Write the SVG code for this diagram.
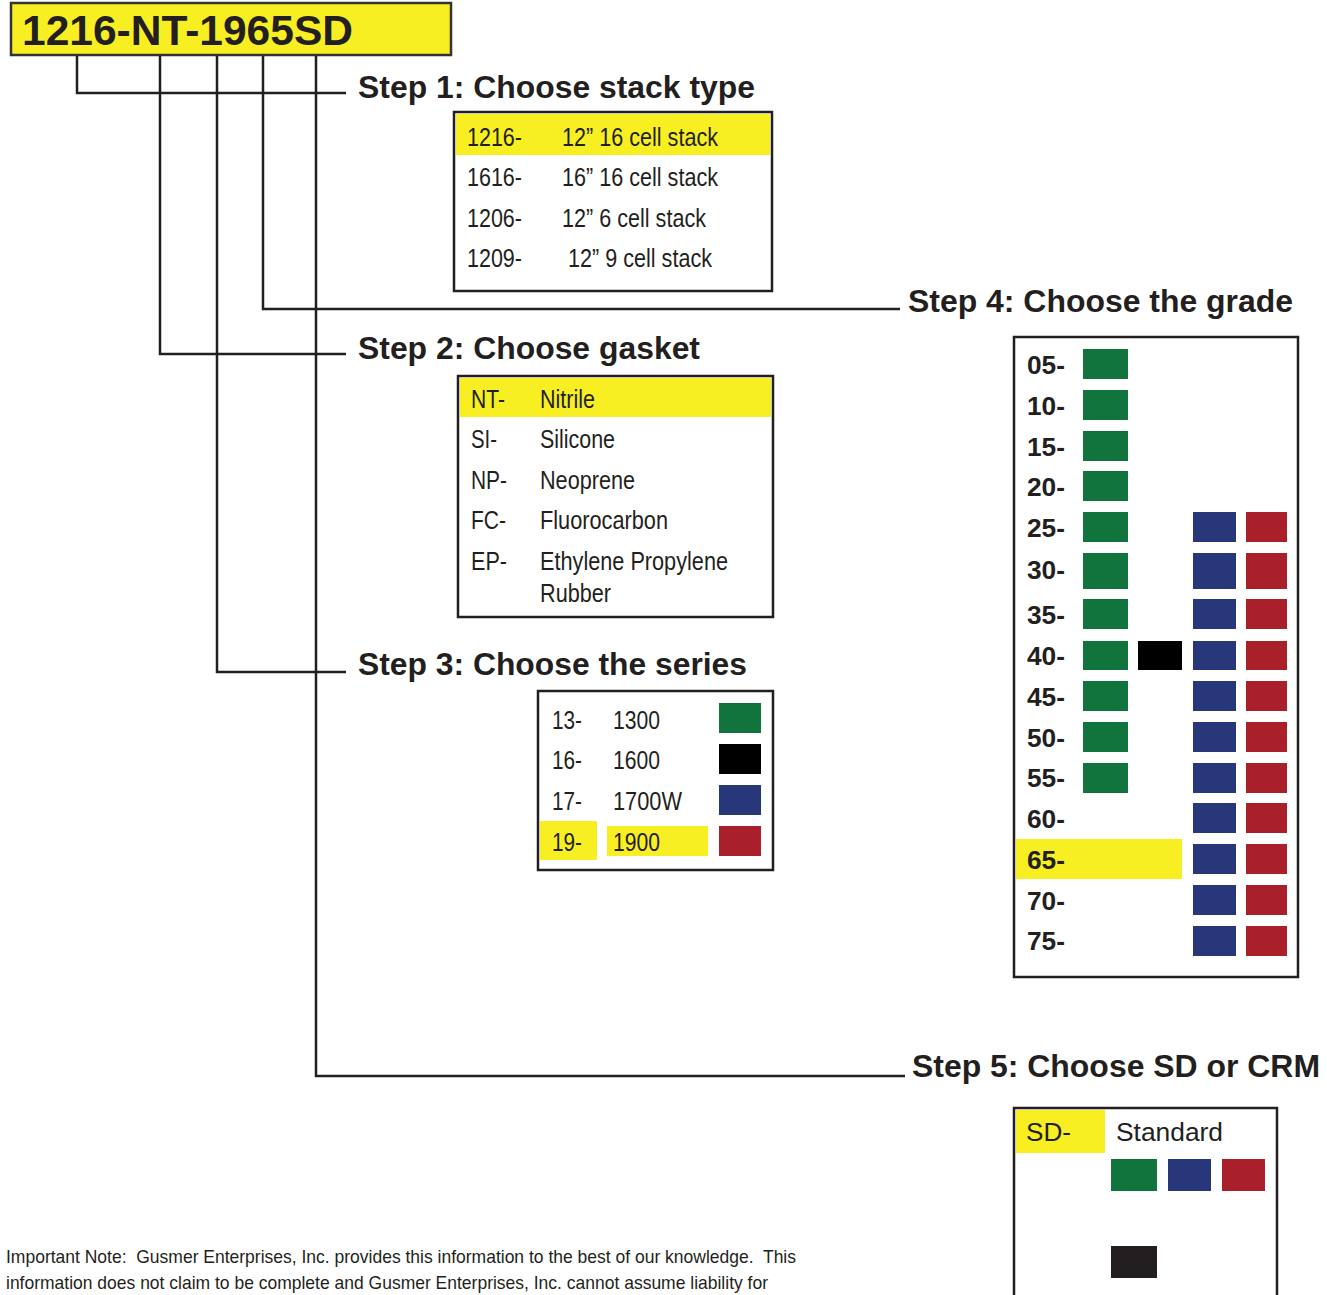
<svg xmlns="http://www.w3.org/2000/svg" width="1327" height="1295" viewBox="0 0 1327 1295">
<style>
.bg{fill:#fff}
.box{fill:#fff;stroke:#231f20;stroke-width:2.5}
.yl{fill:#f8ef22}
.ttl{font-family:"Liberation Sans",Arial,sans-serif;font-weight:bold;font-size:42px;fill:#231f20}
.step{font-family:"Liberation Sans",Arial,sans-serif;font-weight:bold;font-size:31px;fill:#231f20}
.t{font-family:"Liberation Sans",Arial,sans-serif;font-size:25px;fill:#231f20}
.g{font-family:"Liberation Sans",Arial,sans-serif;font-weight:bold;font-size:26px;fill:#231f20}
.note{font-family:"Liberation Sans",Arial,sans-serif;font-size:19px;fill:#231f20;white-space:pre}
.gr{fill:#10743c}.bl{fill:#27377a}.rd{fill:#a91f2a}.bk{fill:#000}
.conn{fill:none;stroke:#231f20;stroke-width:2.5}
</style>
<rect class="bg" x="0" y="0" width="1327" height="1295"/>

<g id="connectors">
<path class="conn" d="M77 55 V93 H346"/>
<path class="conn" d="M160 55 V354 H346"/>
<path class="conn" d="M217 55 V672 H346"/>
<path class="conn" d="M263 55 V309 H900"/>
<path class="conn" d="M316 55 V1076 H905"/>
</g>

<g id="title">
<rect x="11" y="3" width="440" height="52" fill="#f8ef22" stroke="#333" stroke-width="2.5"/>
<text class="ttl" x="22" y="45" textLength="331" lengthAdjust="spacingAndGlyphs">1216-NT-1965SD</text>
</g>

<g id="step1">
<text class="step" x="358" y="98" textLength="397" lengthAdjust="spacingAndGlyphs">Step 1: Choose stack type</text>
<rect class="box" x="454" y="112" width="318" height="179"/>
<rect class="yl" x="456" y="114" width="314" height="41"/>
<text class="t" x="467" y="146" textLength="55" lengthAdjust="spacingAndGlyphs">1216-</text>
<text class="t" x="562" y="146" textLength="156" lengthAdjust="spacingAndGlyphs">12” 16 cell stack</text>
<text class="t" x="467" y="186" textLength="55" lengthAdjust="spacingAndGlyphs">1616-</text>
<text class="t" x="562" y="186" textLength="156" lengthAdjust="spacingAndGlyphs">16” 16 cell stack</text>
<text class="t" x="467" y="227" textLength="55" lengthAdjust="spacingAndGlyphs">1206-</text>
<text class="t" x="562" y="227" textLength="144" lengthAdjust="spacingAndGlyphs">12” 6 cell stack</text>
<text class="t" x="467" y="267" textLength="55" lengthAdjust="spacingAndGlyphs">1209-</text>
<text class="t" x="568" y="267" textLength="144" lengthAdjust="spacingAndGlyphs">12” 9 cell stack</text>
</g>

<g id="step2">
<text class="step" x="358" y="359" textLength="342" lengthAdjust="spacingAndGlyphs">Step 2: Choose gasket</text>
<rect class="box" x="458" y="376" width="315" height="241"/>
<rect class="yl" x="460" y="378" width="311" height="39"/>
<text class="t" x="471" y="408" textLength="34" lengthAdjust="spacingAndGlyphs">NT-</text>
<text class="t" x="540" y="408" textLength="55" lengthAdjust="spacingAndGlyphs">Nitrile</text>
<text class="t" x="471" y="448" textLength="26" lengthAdjust="spacingAndGlyphs">SI-</text>
<text class="t" x="540" y="448" textLength="75" lengthAdjust="spacingAndGlyphs">Silicone</text>
<text class="t" x="471" y="489" textLength="36" lengthAdjust="spacingAndGlyphs">NP-</text>
<text class="t" x="540" y="489" textLength="95" lengthAdjust="spacingAndGlyphs">Neoprene</text>
<text class="t" x="471" y="529" textLength="35" lengthAdjust="spacingAndGlyphs">FC-</text>
<text class="t" x="540" y="529" textLength="128" lengthAdjust="spacingAndGlyphs">Fluorocarbon</text>
<text class="t" x="471" y="570" textLength="36" lengthAdjust="spacingAndGlyphs">EP-</text>
<text class="t" x="540" y="570" textLength="188" lengthAdjust="spacingAndGlyphs">Ethylene Propylene</text>
<text class="t" x="540" y="602" textLength="71" lengthAdjust="spacingAndGlyphs">Rubber</text>
</g>

<g id="step3">
<text class="step" x="358" y="675" textLength="389" lengthAdjust="spacingAndGlyphs">Step 3: Choose the series</text>
<rect class="box" x="538" y="691" width="235" height="179"/>
<rect class="yl" x="540" y="821" width="57" height="39"/>
<rect class="yl" x="607" y="826" width="101" height="30"/>
<text class="t" x="552" y="729" textLength="30" lengthAdjust="spacingAndGlyphs">13-</text>
<text class="t" x="613" y="729" textLength="47" lengthAdjust="spacingAndGlyphs">1300</text>
<text class="t" x="552" y="769" textLength="30" lengthAdjust="spacingAndGlyphs">16-</text>
<text class="t" x="613" y="769" textLength="47" lengthAdjust="spacingAndGlyphs">1600</text>
<text class="t" x="552" y="810" textLength="30" lengthAdjust="spacingAndGlyphs">17-</text>
<text class="t" x="613" y="810" textLength="69" lengthAdjust="spacingAndGlyphs">1700W</text>
<text class="t" x="552" y="851" textLength="30" lengthAdjust="spacingAndGlyphs">19-</text>
<text class="t" x="613" y="851" textLength="47" lengthAdjust="spacingAndGlyphs">1900</text>
<rect class="gr" x="719" y="703" width="42" height="30"/>
<rect class="bk" x="719" y="744" width="42" height="30"/>
<rect class="bl" x="719" y="785" width="42" height="30"/>
<rect class="rd" x="719" y="826" width="42" height="30"/>
</g>

<g id="step4">
<text class="step" x="908" y="312" textLength="385" lengthAdjust="spacingAndGlyphs">Step 4: Choose the grade</text>
<rect class="box" x="1014" y="337" width="284" height="640"/>
<rect class="yl" x="1016" y="839" width="166" height="40"/>
<text class="g" x="1027" y="374" textLength="38" lengthAdjust="spacingAndGlyphs">05-</text>
<text class="g" x="1027" y="415" textLength="38" lengthAdjust="spacingAndGlyphs">10-</text>
<text class="g" x="1027" y="456" textLength="38" lengthAdjust="spacingAndGlyphs">15-</text>
<text class="g" x="1027" y="496" textLength="38" lengthAdjust="spacingAndGlyphs">20-</text>
<text class="g" x="1027" y="537" textLength="38" lengthAdjust="spacingAndGlyphs">25-</text>
<text class="g" x="1027" y="579" textLength="38" lengthAdjust="spacingAndGlyphs">30-</text>
<text class="g" x="1027" y="624" textLength="38" lengthAdjust="spacingAndGlyphs">35-</text>
<text class="g" x="1027" y="665" textLength="38" lengthAdjust="spacingAndGlyphs">40-</text>
<text class="g" x="1027" y="706" textLength="38" lengthAdjust="spacingAndGlyphs">45-</text>
<text class="g" x="1027" y="747" textLength="38" lengthAdjust="spacingAndGlyphs">50-</text>
<text class="g" x="1027" y="787" textLength="38" lengthAdjust="spacingAndGlyphs">55-</text>
<text class="g" x="1027" y="828" textLength="38" lengthAdjust="spacingAndGlyphs">60-</text>
<text class="g" x="1027" y="869" textLength="38" lengthAdjust="spacingAndGlyphs">65-</text>
<text class="g" x="1027" y="910" textLength="38" lengthAdjust="spacingAndGlyphs">70-</text>
<text class="g" x="1027" y="950" textLength="38" lengthAdjust="spacingAndGlyphs">75-</text>
<g class="gr">
<rect x="1083" y="349" width="45" height="30"/>
<rect x="1083" y="390" width="45" height="30"/>
<rect x="1083" y="431" width="45" height="30"/>
<rect x="1083" y="471" width="45" height="30"/>
<rect x="1083" y="512" width="45" height="30"/>
<rect x="1083" y="553" width="45" height="36"/>
<rect x="1083" y="599" width="45" height="30"/>
<rect x="1083" y="641" width="45" height="29"/>
<rect x="1083" y="681" width="45" height="30"/>
<rect x="1083" y="722" width="45" height="30"/>
<rect x="1083" y="763" width="45" height="30"/>
</g>
<rect class="bk" x="1138" y="641" width="44" height="29"/>
<g class="bl">
<rect x="1193" y="512" width="43" height="30"/>
<rect x="1193" y="553" width="43" height="36"/>
<rect x="1193" y="599" width="43" height="30"/>
<rect x="1193" y="641" width="43" height="29"/>
<rect x="1193" y="681" width="43" height="30"/>
<rect x="1193" y="722" width="43" height="30"/>
<rect x="1193" y="763" width="43" height="30"/>
<rect x="1193" y="803" width="43" height="30"/>
<rect x="1193" y="844" width="43" height="30"/>
<rect x="1193" y="885" width="43" height="30"/>
<rect x="1193" y="926" width="43" height="30"/>
</g>
<g class="rd">
<rect x="1246" y="512" width="41" height="30"/>
<rect x="1246" y="553" width="41" height="36"/>
<rect x="1246" y="599" width="41" height="30"/>
<rect x="1246" y="641" width="41" height="29"/>
<rect x="1246" y="681" width="41" height="30"/>
<rect x="1246" y="722" width="41" height="30"/>
<rect x="1246" y="763" width="41" height="30"/>
<rect x="1246" y="803" width="41" height="30"/>
<rect x="1246" y="844" width="41" height="30"/>
<rect x="1246" y="885" width="41" height="30"/>
<rect x="1246" y="926" width="41" height="30"/>
</g>
</g>

<g id="step5">
<text class="step" x="912" y="1077" textLength="408" lengthAdjust="spacingAndGlyphs">Step 5: Choose SD or CRM</text>
<rect class="box" x="1014" y="1108" width="263" height="200"/>
<rect class="yl" x="1016" y="1110" width="89" height="43"/>
<text class="t" x="1026" y="1141" textLength="45" lengthAdjust="spacingAndGlyphs">SD-</text>
<text class="t" x="1116" y="1141" textLength="107" lengthAdjust="spacingAndGlyphs">Standard</text>
<rect class="gr" x="1111" y="1159" width="46" height="32"/>
<rect class="bl" x="1168" y="1159" width="43" height="32"/>
<rect class="rd" x="1222" y="1159" width="43" height="32"/>
<rect x="1111" y="1246" width="46" height="32" fill="#231f20"/>
</g>

<g id="note">
<text class="note" xml:space="preserve" x="6" y="1263" textLength="790" lengthAdjust="spacingAndGlyphs">Important Note:  Gusmer Enterprises, Inc. provides this information to the best of our knowledge.  This</text>
<text class="note" x="6" y="1289" textLength="762" lengthAdjust="spacingAndGlyphs">information does not claim to be complete and Gusmer Enterprises, Inc. cannot assume liability for</text>
</g>
</svg>
